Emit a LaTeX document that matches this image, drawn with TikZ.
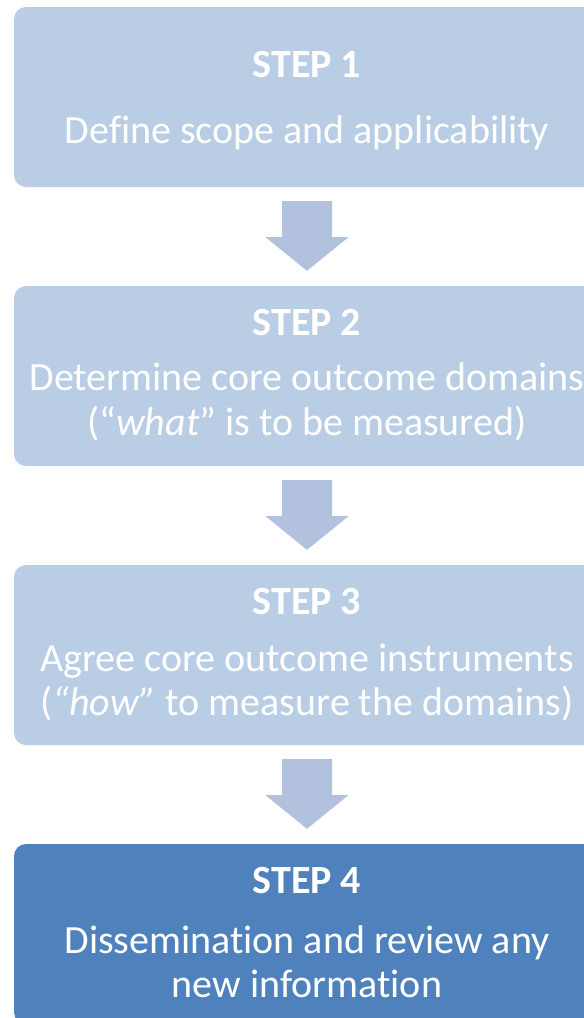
\documentclass[tikz,border=0pt]{standalone}
\usepackage{fontspec}
\setmainfont[Ligatures={TeX,NoCommon}]{Carlito}
\usetikzlibrary{calc}
\definecolor{lightbox}{HTML}{B9CDE5}
\definecolor{darkbox}{HTML}{4F81BD}
\definecolor{arrowcol}{HTML}{B2C1DD}
\tikzset{
  box/.style={rectangle, rounded corners=12pt, minimum width=586pt, minimum height=180pt, inner sep=0pt},
  steptitle/.style={text=white, font=\fontsize{40}{44}\selectfont\bfseries, inner sep=0pt, anchor=base},
  steptext/.style={text=white, font=\fontsize{40}{44}\selectfont, inner sep=0pt, anchor=base},
  downarrow/.style={fill=arrowcol}
}
\begin{document}
\begin{tikzpicture}[x=1pt,y=-1pt]
\useasboundingbox (0,0) rectangle (584,1018);
\node[box, fill=lightbox] (s1) at (307,97) {};
\node[box, fill=lightbox] (s2) at (307,376) {};
\node[box, fill=lightbox] (s3) at (307,655) {};
\node[box, fill=darkbox] (s4) at (307,934) {};

\node[steptitle] (t1) at (307,77.3) {STEP 1};
\node[steptext] (d1) at (307,143.3) {Define scope and applicability};

\node[steptitle] (t2) at (307,335) {STEP 2};
\node[steptext] (d2a) at (307,390) {Determine core outcome domains};
\node[steptext] (d2b) at (307,435) {(“\textit{what}” is to be measured)};

\node[steptitle] (t3) at (307,614) {STEP 3};
\node[steptext] (d3a) at (307,671) {Agree core outcome instruments};
\node[steptext] (d3b) at (307,715) {(\textit{“how”} to measure the domains)};

\node[steptitle] (t4) at (307,893) {STEP 4};
\node[steptext] (d4a) at (307,953) {Dissemination and review any};
\node[steptext] (d4b) at (307,997) {new information};

\foreach \a/\b in {s1/s2, s2/s3, s3/s4}{
  \coordinate (p) at (\a.south);
  \coordinate (q) at (\b.north);
  \fill[downarrow] ($(p)+(-25,14)$) -- ($(p)+(25,14)$) -- ($(p)+(25,50)$) -- ($(p)+(41.5,50)$)
     -- ($(q)+(0,-15)$) -- ($(p)+(-41.5,50)$) -- ($(p)+(-25,50)$) -- cycle;
}
\end{tikzpicture}
\end{document}
